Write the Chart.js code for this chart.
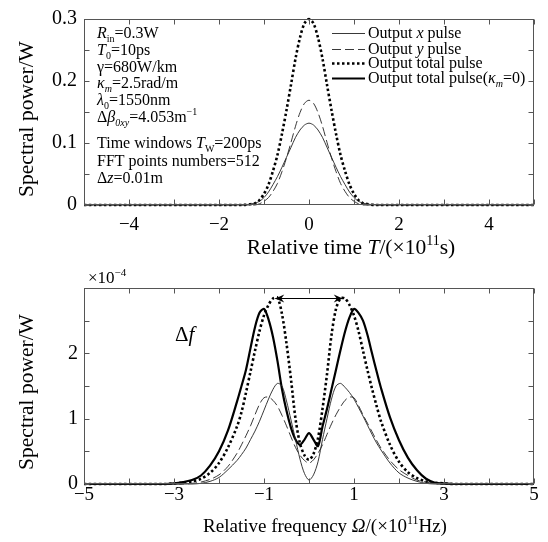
<!DOCTYPE html>
<html><head><meta charset="utf-8">
<script src="https://cdn.jsdelivr.net/npm/chart.js@4.4.0/dist/chart.umd.min.js"></script>
<style>
html,body{margin:0;padding:0;background:#fff;}
#wrap{position:relative;width:548px;height:542px;overflow:hidden;}
canvas{position:absolute;left:0;}
</style></head><body>
<div id="wrap">
<canvas id="c1" width="548" height="265" style="top:0"></canvas>
<canvas id="c2" width="548" height="277" style="top:265px"></canvas>
</div>
<script>
// ---------- data: top panel (time domain) ----------
const timeT = [-5, -1.5, -1.2, -1.1, -1.0, -0.9, -0.8, -0.7, -0.6, -0.5, -0.4, -0.3, -0.2, -0.1, 0,
               0.1, 0.2, 0.3, 0.4, 0.5, 0.6, 0.7, 0.8, 0.9, 1.0, 1.1, 1.2, 1.5, 5];
const timeXPulse = [0, 0, 0.003, 0.006, 0.012, 0.021, 0.033, 0.046, 0.061, 0.077, 0.093, 0.109, 0.121, 0.129, 0.132,
                    0.129, 0.121, 0.109, 0.093, 0.077, 0.061, 0.046, 0.033, 0.021, 0.012, 0.006, 0.003, 0, 0];
const timeYPulse = [0, 0, 0, 0.002, 0.006, 0.012, 0.022, 0.035, 0.054, 0.076, 0.101, 0.127, 0.149, 0.164, 0.169,
                    0.164, 0.149, 0.127, 0.101, 0.076, 0.054, 0.035, 0.022, 0.012, 0.006, 0.002, 0, 0, 0];
const timeTotal  = [0, 0, 0.003, 0.008, 0.018, 0.033, 0.055, 0.081, 0.115, 0.153, 0.194, 0.236, 0.270, 0.293, 0.300,
                    0.293, 0.270, 0.236, 0.194, 0.153, 0.115, 0.081, 0.055, 0.033, 0.018, 0.008, 0.003, 0, 0];
const timeTotalK0 = []; // not drawn separately in the time panel (legend only)

// ---------- data: bottom panel (spectrum, units of 1e-4 W) ----------
const freq = [-5, -3.2, -3.0, -2.8, -2.6, -2.4, -2.2, -2.0, -1.8, -1.6,
              -1.5, -1.4, -1.3, -1.2, -1.1, -1.0, -0.9, -0.8, -0.7, -0.6, -0.5, -0.4, -0.3, -0.2, -0.1, 0,
              0.1, 0.2, 0.3, 0.4, 0.5, 0.6, 0.7, 0.8, 0.9, 1.0, 1.1, 1.2, 1.3, 1.4, 1.5,
              1.6, 1.8, 2.0, 2.2, 2.4, 2.6, 2.8, 3.0, 3.2, 5];
const specXPulse = [0, 0, 0, 0, 0, 0.01, 0.04, 0.10, 0.22, 0.36,
                    0.45, 0.55, 0.68, 0.81, 0.96, 1.13, 1.30, 1.45, 1.54, 1.50, 1.27, 0.98, 0.68, 0.38, 0.16, 0.06,
                    0.14, 0.34, 0.68, 1.00, 1.30, 1.50, 1.54, 1.48, 1.40, 1.30, 1.17, 1.04, 0.90, 0.76, 0.63,
                    0.52, 0.32, 0.17, 0.09, 0.04, 0.01, 0, 0, 0, 0];
const specYPulse = [0, 0, 0, 0, 0.01, 0.03, 0.07, 0.14, 0.27, 0.47,
                    0.60, 0.74, 0.89, 1.06, 1.22, 1.32, 1.33, 1.28, 1.19, 1.05, 0.89, 0.72, 0.56, 0.44, 0.36, 0.32,
                    0.37, 0.47, 0.60, 0.76, 0.92, 1.06, 1.18, 1.28, 1.33, 1.32, 1.20, 1.06, 0.93, 0.80, 0.67,
                    0.55, 0.36, 0.22, 0.13, 0.06, 0.03, 0.01, 0, 0, 0];
const specTotal  = [0, 0, 0.01, 0.02, 0.04, 0.08, 0.17, 0.32, 0.56, 0.88,
                    1.10, 1.40, 1.72, 2.04, 2.34, 2.58, 2.74, 2.84, 2.85, 2.60, 2.15, 1.60, 1.00, 0.62, 0.44, 0.37,
                    0.46, 0.70, 1.15, 1.68, 2.28, 2.68, 2.84, 2.84, 2.74, 2.58, 2.34, 2.04, 1.74, 1.46, 1.20,
                    0.96, 0.60, 0.34, 0.18, 0.09, 0.04, 0.02, 0.01, 0, 0];
const specTotalK0 = [0, 0, 0.01, 0.03, 0.06, 0.13, 0.28, 0.50, 0.82, 1.26,
                    1.50, 1.75, 2.08, 2.40, 2.62, 2.68, 2.52, 2.25, 1.88, 1.45, 1.12, 0.86, 0.68, 0.60, 0.68, 0.78,
                    0.68, 0.58, 0.88, 1.15, 1.45, 1.75, 2.05, 2.33, 2.55, 2.68, 2.62, 2.50, 2.28, 2.00, 1.73,
                    1.47, 1.02, 0.67, 0.40, 0.21, 0.08, 0.02, 0.01, 0, 0];

const seriesLabels = ['Output x pulse', 'Output y pulse', 'Output total pulse', 'Output total pulse(κm=0)'];
const timeTickLabels = ['−4', '−2', '0', '2', '4'];
const freqTickLabels = ['−5', '−3', '−1', '1', '3', '5'];
const arrowSpan = [-0.75, 0.75];   // Δf arrow, in frequency units
const arrowLevel = 2.85;           // in 1e-4 W

// ---------- helpers ----------
const FONT = '"Liberation Serif", "Times New Roman", serif';
const pts = (xs, ys) => ys.map((y, i) => ({x: xs[i], y}));
const fmtNum = v => (v < 0 ? '−' + Math.abs(v) : String(v));

function richWidth(ctx, segs, size) {
  let w = 0;
  for (const s of segs) {
    const st = s[1] || '';
    const small = st.includes('b') || st.includes('p');
    const fs = small ? Math.round(size * 0.65) : size;
    ctx.font = (st.includes('i') ? 'italic ' : '') + fs + 'px ' + FONT;
    w += ctx.measureText(s[0]).width;
  }
  return w;
}
function rich(ctx, x, y, segs, size) {
  let cx = x;
  ctx.textAlign = 'left';
  ctx.textBaseline = 'alphabetic';
  for (const s of segs) {
    const st = s[1] || '';
    const small = st.includes('b') || st.includes('p');
    const fs = small ? Math.round(size * 0.65) : size;
    ctx.font = (st.includes('i') ? 'italic ' : '') + fs + 'px ' + FONT;
    const dy = st.includes('b') ? size * 0.22 : st.includes('p') ? -size * 0.42 : 0;
    ctx.fillText(s[0], cx, y + dy);
    cx += ctx.measureText(s[0]).width;
  }
  return cx;
}
function drawFrame(chart) {
  const ctx = chart.ctx, a = chart.chartArea;
  const xs = chart.scales.x, ys = chart.scales.y;
  const L = Math.round(a.left) + 0.5, R = Math.round(a.right) - 0.5;
  const T = Math.round(a.top) + 0.5, B = Math.round(a.bottom) - 0.5;
  ctx.save();
  ctx.strokeStyle = '#555';
  ctx.lineWidth = 1;
  ctx.strokeRect(L, T, R - L, B - T);
  ctx.beginPath();
  const tl = 5;
  xs.ticks.forEach(t => {
    const px = Math.round(xs.getPixelForValue(t.value)) + 0.5;
    ctx.moveTo(px, B); ctx.lineTo(px, B - tl);
    ctx.moveTo(px, T); ctx.lineTo(px, T + tl);
  });
  ys.ticks.forEach(t => {
    const py = Math.round(ys.getPixelForValue(t.value)) + 0.5;
    ctx.moveTo(L, py); ctx.lineTo(L + tl, py);
    ctx.moveTo(R, py); ctx.lineTo(R - tl, py);
  });
  ctx.stroke();
  ctx.restore();
}
function yTitle(ctx, cx, cy, text, size) {
  ctx.save();
  ctx.translate(cx, cy);
  ctx.rotate(-Math.PI / 2);
  ctx.font = size + 'px ' + FONT;
  ctx.fillStyle = '#000';
  ctx.textAlign = 'center';
  ctx.textBaseline = 'middle';
  ctx.fillText(text, 0, 0);
  ctx.restore();
}
function centeredRich(ctx, cx, y, segs, size) {
  const w = richWidth(ctx, segs, size);
  rich(ctx, cx - w / 2, y, segs, size);
}

const styleX  = {borderColor: '#222', borderWidth: 0.9, borderDash: []};
const styleY  = {borderColor: '#222', borderWidth: 0.9, borderDash: [9, 4]};
const styleT  = {borderColor: '#000', borderWidth: 2.6, borderDash: [2.5, 2.5]};
const styleK0 = {borderColor: '#000', borderWidth: 2.2, borderDash: []};
const common = {pointRadius: 0, fill: false, tension: 0.3, borderCapStyle: 'butt', clip: 4};

function tickFont() { return {family: FONT, size: 19}; }

// ---------- top chart ----------
const legendRich = [
  [['Output '], ['x', 'i'], [' pulse']],
  [['Output '], ['y', 'i'], [' pulse']],
  [['Output total pulse']],
  [['Output total pulse('], ['κ', 'i'], ['m', 'ib'], ['=0)']]
];
const paramLines = [
  {y: 38,  s: [['R', 'i'], ['in', 'b'], ['=0.3W']]},
  {y: 55,  s: [['T', 'i'], ['0', 'b'], ['=10ps']]},
  {y: 72,  s: [['γ=680W/km']]},
  {y: 88,  s: [['κ', 'i'], ['m', 'ib'], ['=2.5rad/m']]},
  {y: 105, s: [['λ', 'i'], ['0', 'b'], ['=1550nm']]},
  {y: 122, s: [['Δ'], ['β', 'i'], ['0xy', 'ib'], ['=4.053m'], ['−1', 'p']]},
  {y: 148, s: [['Time windows '], ['T', 'i'], ['W', 'b'], ['=200ps']]},
  {y: 166, s: [['FFT points numbers=512']]},
  {y: 183, s: [['Δ'], ['z', 'i'], ['=0.01m']]}
];

const topOverlay = {
  id: 'topOverlay',
  afterDraw(chart) {
    const ctx = chart.ctx;
    drawFrame(chart);
    ctx.save();
    ctx.fillStyle = '#000';
    yTitle(ctx, 27, 119, 'Spectral power/W', 21.5);
    centeredRich(ctx, 351, 254, [['Relative time '], ['T', 'i'], ['/(×10'], ['11', 'p'], ['s)']], 21.5);
    paramLines.forEach(l => rich(ctx, 97, l.y, l.s, 16));
    // legend
    const rows = [33, 49, 63, 78];
    chart.data.datasets.forEach((ds, i) => {
      ctx.save();
      ctx.strokeStyle = ds.borderColor;
      ctx.lineWidth = ds.borderWidth;
      ctx.setLineDash(ds.borderDash || []);
      ctx.lineCap = 'butt';
      ctx.beginPath();
      ctx.moveTo(332, rows[i] + 0.5);
      ctx.lineTo(365, rows[i] + 0.5);
      ctx.stroke();
      ctx.restore();
      ctx.fillStyle = '#000';
      rich(ctx, 368, rows[i] + 5, legendRich[i], 16);
    });
    ctx.restore();
  }
};

new Chart(document.getElementById('c1'), {
  type: 'line',
  data: {
    datasets: [
      Object.assign({label: seriesLabels[0], data: pts(timeT, timeXPulse)}, styleX, common),
      Object.assign({label: seriesLabels[1], data: pts(timeT, timeYPulse)}, styleY, common),
      Object.assign({label: seriesLabels[2], data: pts(timeT, timeTotal)}, styleT, common),
      Object.assign({label: seriesLabels[3], data: pts(timeT, timeTotalK0)}, styleK0, common)
    ]
  },
  options: {
    responsive: false, animation: false, devicePixelRatio: 1,
    layout: {padding: {left: 0, right: 14, top: 16, bottom: 0}},
    plugins: {legend: {display: false}, tooltip: {enabled: false}},
    scales: {
      x: {
        type: 'linear', min: -5, max: 5,
        grid: {display: false, drawTicks: false}, border: {display: false},
        ticks: {stepSize: 1, autoSkip: false, maxRotation: 0, padding: 9, color: '#000', font: tickFont(),
          callback: v => { const s = fmtNum(Math.round(v)); return timeTickLabels.includes(s) ? s : ''; }},
        afterFit(s) { s.height = 60; }
      },
      y: {
        min: 0, max: 0.3,
        grid: {display: false, drawTicks: false}, border: {display: false},
        ticks: {stepSize: 0.05, autoSkip: false, padding: 7, color: '#000', font: {family: FONT, size: 20},
          callback: v => { const k = Math.round(v * 100); return k % 10 === 0 ? (k === 0 ? '0' : (k / 100).toFixed(1)) : ''; }},
        afterFit(s) { s.width = 84; }
      }
    }
  },
  plugins: [topOverlay]
});

// ---------- bottom chart ----------
const bottomOverlay = {
  id: 'bottomOverlay',
  afterDraw(chart) {
    const ctx = chart.ctx;
    const xs = chart.scales.x, ys = chart.scales.y;
    drawFrame(chart);
    ctx.save();
    ctx.fillStyle = '#000';
    yTitle(ctx, 27, 127, 'Spectral power/W', 21.5);
    centeredRich(ctx, 325, 267, [['Relative frequency '], ['Ω', 'i'], ['/(×10'], ['11', 'p'], ['Hz)']], 19);
    rich(ctx, 88, 18, [['×10'], ['−4', 'p']], 17);
    rich(ctx, 175, 76, [['Δ'], ['f', 'i']], 21);
    // Δf arrow
    const x1 = xs.getPixelForValue(arrowSpan[0]), x2 = xs.getPixelForValue(arrowSpan[1]);
    const y = Math.round(ys.getPixelForValue(arrowLevel)) + 0.5;
    ctx.strokeStyle = '#000';
    ctx.lineWidth = 1;
    ctx.beginPath();
    ctx.moveTo(x1, y); ctx.lineTo(x2, y);
    ctx.stroke();
    const head = (xt, dir) => {
      ctx.beginPath();
      ctx.moveTo(xt, y);
      ctx.lineTo(xt + dir * 9, y - 4);
      ctx.lineTo(xt + dir * 6, y);
      ctx.lineTo(xt + dir * 9, y + 4);
      ctx.closePath();
      ctx.fill();
    };
    head(x1, 1); head(x2, -1);
    ctx.restore();
  }
};

new Chart(document.getElementById('c2'), {
  type: 'line',
  data: {
    datasets: [
      Object.assign({label: seriesLabels[0], data: pts(freq, specXPulse)}, styleX, common),
      Object.assign({label: seriesLabels[1], data: pts(freq, specYPulse)}, styleY, common),
      Object.assign({label: seriesLabels[2], data: pts(freq, specTotal)}, styleT, common),
      Object.assign({label: seriesLabels[3], data: pts(freq, specTotalK0)}, styleK0, common)
    ]
  },
  options: {
    responsive: false, animation: false, devicePixelRatio: 1,
    layout: {padding: {left: 0, right: 14, top: 23, bottom: 0}},
    plugins: {legend: {display: false}, tooltip: {enabled: false}},
    scales: {
      x: {
        type: 'linear', min: -5, max: 5,
        grid: {display: false, drawTicks: false}, border: {display: false},
        ticks: {stepSize: 1, autoSkip: false, maxRotation: 0, padding: 0, color: '#000', font: tickFont(),
          callback: v => { const s = fmtNum(Math.round(v)); return freqTickLabels.includes(s) ? s : ''; }},
        afterFit(s) { s.height = 58; }
      },
      y: {
        min: 0, max: 3,
        grid: {display: false, drawTicks: false}, border: {display: false},
        ticks: {stepSize: 0.5, autoSkip: false, padding: 6, color: '#000', font: {family: FONT, size: 20},
          callback: v => (Math.abs(v - Math.round(v)) < 1e-6 && v < 2.5 ? String(Math.round(v)) : '')},
        afterFit(s) { s.width = 84; }
      }
    }
  },
  plugins: [bottomOverlay]
});
</script>
</body></html>
